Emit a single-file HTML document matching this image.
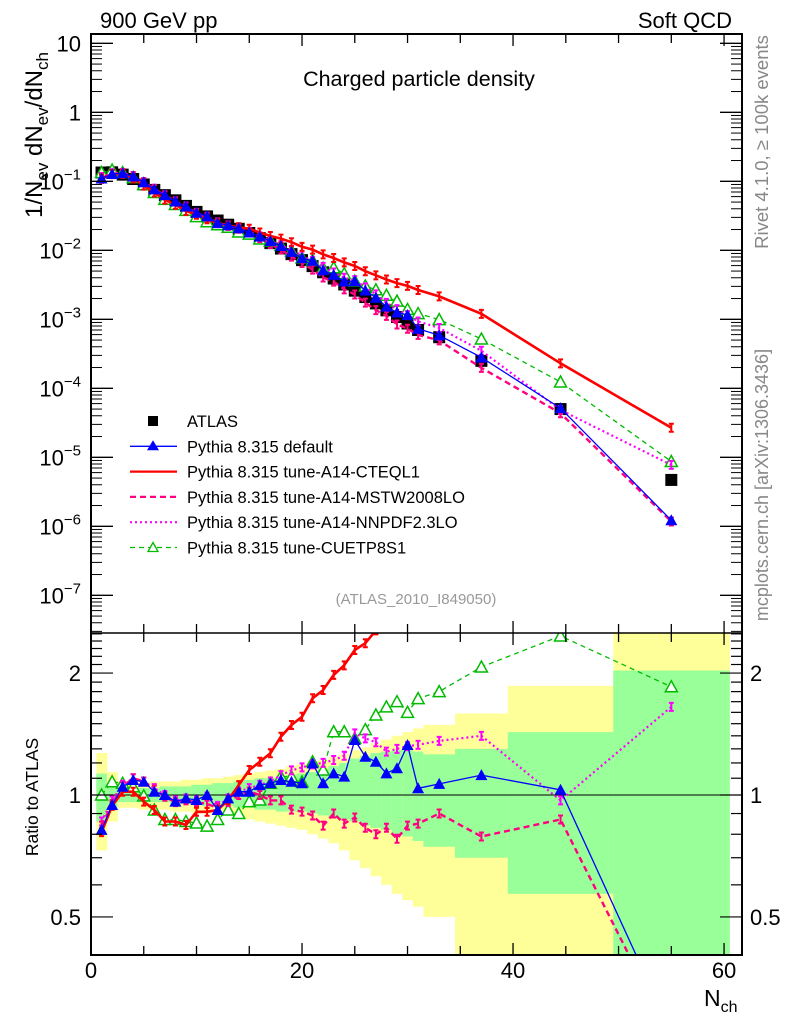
<!DOCTYPE html>
<html><head><meta charset="utf-8"><style>
html,body{margin:0;padding:0;background:#fff;}
svg{display:block;font-family:"Liberation Sans",sans-serif;}
</style></head><body>
<svg id="chart" width="786" height="1024" viewBox="0 0 786 1024" xmlns="http://www.w3.org/2000/svg">
<defs>
<clipPath id="clipMain"><rect x="91" y="34" width="651" height="599"/></clipPath>
<clipPath id="clipRatio"><rect x="91" y="633" width="651" height="322"/></clipPath>
</defs>
<g id="bands" clip-path="url(#clipRatio)"></g>
<g id="ratioMarks" clip-path="url(#clipRatio)"></g>
<g id="mainMarks" clip-path="url(#clipMain)"></g>
<g id="axes"></g>
<text x="100" y="28" font-size="22">900 GeV pp</text>
<text x="732" y="28" font-size="22" text-anchor="end">Soft QCD</text>
<text x="419" y="86" font-size="21.5" text-anchor="middle">Charged particle density</text>
<text x="416" y="604" font-size="15" fill="#999" text-anchor="middle">(ATLAS_2010_I849050)</text>
<text transform="translate(768,142) rotate(-90)" font-size="18.5" fill="#888" text-anchor="middle">Rivet 4.1.0, ≥ 100k events</text>
<text transform="translate(768,485) rotate(-90)" font-size="18" fill="#888" text-anchor="middle">mcplots.cern.ch [arXiv:1306.3436]</text>
<text transform="translate(42,135) rotate(-90)" font-size="24" text-anchor="middle">1/N<tspan font-size="17" dy="6">ev</tspan><tspan dy="-6"> dN</tspan><tspan font-size="17" dy="6">ev</tspan><tspan dy="-6">/dN</tspan><tspan font-size="17" dy="6">ch</tspan></text>
<text transform="translate(38,797) rotate(-90)" font-size="17.5" text-anchor="middle">Ratio to ATLAS</text>
<text x="704" y="1006" font-size="23">N<tspan font-size="16" dy="6">ch</tspan></text>
<g id="legend"></g>
</svg>
<script>
// ---- data ----
const xCenters = [1,2,3,4,5,6,7,8,9,10,11,12,13,14,15,16,17,18,19,20,21,22,23,24,25,26,27,28,29,30,31,33,37,44.5,55];
const xLow = [0.5,1.5,2.5,3.5,4.5,5.5,6.5,7.5,8.5,9.5,10.5,11.5,12.5,13.5,14.5,15.5,16.5,17.5,18.5,19.5,20.5,21.5,22.5,23.5,24.5,25.5,26.5,27.5,28.5,29.5,30.5,31.5,34.5,39.5,49.5];
const xHigh = [1.5,2.5,3.5,4.5,5.5,6.5,7.5,8.5,9.5,10.5,11.5,12.5,13.5,14.5,15.5,16.5,17.5,18.5,19.5,20.5,21.5,22.5,23.5,24.5,25.5,26.5,27.5,28.5,29.5,30.5,31.5,34.5,39.5,49.5,60.5];
const atlasValues = [0.134,0.135,0.125,0.108,0.09,0.075,0.063,0.053,0.044,0.036,0.031,0.027,0.0235,0.0205,0.0178,0.0150,0.0127,0.0106,0.0088,0.0072,0.0059,0.0048,0.0039,0.0032,0.0026,0.0021,0.0017,0.00135,0.00108,0.00087,0.0007,0.00055,0.00025,0.00005,0.0000047];
const ratioDefault = [0.82,0.945,1.048,1.089,1.078,1.019,1.0,0.963,0.981,0.972,1.0,0.918,0.981,1.019,1.019,1.058,1.069,1.089,1.078,1.069,1.197,1.069,1.131,1.11,1.367,1.243,1.208,1.131,1.164,1.329,1.039,1.065,1.12,1.03,0.26];
const ratioCTEQL1 = [0.81,0.94,1.019,1.019,0.963,0.918,0.86,0.86,0.843,0.909,0.909,0.918,0.972,1.058,1.153,1.208,1.268,1.393,1.489,1.56,1.733,1.816,1.98,2.09,2.28,2.37,2.55,2.8,3.1,3.5,3.8,3.9,4.8,4.6,5.7];
const ratioMSTW = [0.84,0.95,1.05,1.1,1.08,1.03,0.99,0.96,0.97,0.96,0.95,0.93,0.96,1.0,1.02,1.0,0.97,0.97,0.92,0.91,0.89,0.84,0.9,0.85,0.88,0.83,0.8,0.83,0.78,0.84,0.85,0.9,0.79,0.87,0.25];
const ratioNNPDF = [0.86,0.97,1.06,1.1,1.08,1.04,1.0,0.97,0.98,0.97,0.99,0.94,0.98,1.02,1.04,1.06,1.08,1.12,1.15,1.17,1.19,1.2,1.22,1.25,1.42,1.38,1.35,1.28,1.3,1.32,1.33,1.36,1.4,0.97,1.65];
const ratioCUETP8S1 = [1.0,1.078,1.069,1.048,0.995,0.918,0.87,0.87,0.86,0.853,0.838,0.87,0.918,0.9,0.963,0.972,1.069,1.11,1.11,1.078,1.208,1.153,1.433,1.433,1.38,1.45,1.576,1.65,1.7,1.6,1.73,1.8,2.07,2.47,1.85];
const yellowUp = [1.27,1.14,1.07,1.07,1.07,1.08,1.08,1.08,1.09,1.09,1.10,1.10,1.11,1.12,1.13,1.14,1.15,1.16,1.18,1.19,1.21,1.22,1.24,1.26,1.29,1.31,1.34,1.37,1.40,1.43,1.46,1.49,1.59,1.86,3.0];
const yellowDown = [0.73,0.86,0.93,0.93,0.92,0.92,0.92,0.91,0.91,0.90,0.90,0.89,0.89,0.88,0.87,0.86,0.85,0.84,0.83,0.82,0.80,0.78,0.76,0.73,0.69,0.66,0.63,0.60,0.57,0.55,0.53,0.50,0.3,0.3,0.3];
const greenUp = [1.13,1.06,1.04,1.04,1.04,1.04,1.05,1.05,1.05,1.06,1.06,1.07,1.07,1.08,1.09,1.10,1.10,1.11,1.12,1.13,1.14,1.16,1.18,1.20,1.23,1.25,1.27,1.28,1.29,1.30,1.28,1.26,1.30,1.43,2.03];
const greenDown = [0.86,0.93,0.96,0.96,0.96,0.96,0.96,0.95,0.95,0.95,0.94,0.94,0.94,0.93,0.93,0.92,0.92,0.91,0.91,0.91,0.90,0.89,0.88,0.87,0.86,0.84,0.83,0.82,0.80,0.79,0.77,0.745,0.70,0.57,0.3];
const xTickLabels = [0,20,40,60];
const yDecades = [-7,-6,-5,-4,-3,-2,-1,0,1];
const ratioTickLabels = [0.5,1,2];

// ---- axes functions ----
const X0=91, X1=742, XMAX=61.7;
const X = v => X0 + v*(X1-X0)/XMAX;
const Y = v => 43.3 + (1-Math.log10(v))*69;
const YR = r => 795 - 405*Math.log10(r);
const NS="http://www.w3.org/2000/svg";
function mk(tag, attrs, parent){const e=document.createElementNS(NS,tag);for(const k in attrs)e.setAttribute(k,attrs[k]);parent.appendChild(e);return e;}

// ---- bands ----
const bands=document.getElementById('bands');
xCenters.forEach((c,i)=>{
  const y1=mk('rect',{x:X(xLow[i]),y:YR(yellowUp[i]),width:X(xHigh[i])-X(xLow[i])+0.5,height:YR(yellowDown[i])-YR(yellowUp[i]),fill:'#ffff99'},bands);
  
  
  const g1=mk('rect',{x:X(xLow[i]),y:YR(greenUp[i]),width:X(xHigh[i])-X(xLow[i])+0.5,height:YR(greenDown[i])-YR(greenUp[i]),fill:'#99ff99'},bands);
  
  
});

// ---- series ----
const series=[
 {name:'default',r:ratioDefault,color:'#0000ff',w:1.3,dash:'',marker:'tri'},
 {name:'a14-cteql1',r:ratioCTEQL1,color:'#ff0000',w:2.6,dash:'',marker:'bar'},
 {name:'a14-mstw2008lo',r:ratioMSTW,color:'#ff0080',w:2.4,dash:'6,4',marker:'bar'},
 {name:'a14-nnpdf23lo',r:ratioNNPDF,color:'#ff00ff',w:2.2,dash:'2,3',marker:'bar'},
 {name:'cuetp8s1',r:ratioCUETP8S1,color:'#00bb00',w:1.3,dash:'5,4',marker:'otri'}
];
function marker(g,type,x,y,color){
  let e;
  if(type==='tri') e=mk('path',{d:`M${x-6},${y+5}L${x+6},${y+5}L${x},${y-6}Z`,fill:color},g);
  else if(type==='otri') e=mk('path',{d:`M${x-6},${y+5}L${x+6},${y+5}L${x},${y-6}Z`,fill:'#fff',stroke:color,'stroke-width':1.5},g);
  else e=mk('path',{d:`M${x},${y-4}V${y+4}M${x-2.5},${y-4}H${x+2.5}M${x-2.5},${y+4}H${x+2.5}`,stroke:color,'stroke-width':2},g);
  return e;
}
const main=document.getElementById('mainMarks'), ratio=document.getElementById('ratioMarks');
xCenters.forEach((c,i)=>{
  const s=mk('rect',{x:X(c)-6,y:Y(atlasValues[i])-6,width:12,height:12,fill:'#000'},main);
  
  
});
mk('line',{x1:91,x2:742,y1:YR(1),y2:YR(1),stroke:'#000','stroke-width':1},ratio);
series.slice().reverse().forEach(s=>{
  const gm=mk('g',{},main), gr=mk('g',{},ratio);
  
  
  
  
  const pm=xCenters.map((c,i)=>X(c).toFixed(1)+','+Y(atlasValues[i]*s.r[i]).toFixed(1)).join(' ');
  const pr=xCenters.map((c,i)=>X(c).toFixed(1)+','+YR(s.r[i]).toFixed(1)).join(' ');
  const lm=mk('polyline',{points:pm,fill:'none',stroke:s.color,'stroke-width':s.w,'stroke-dasharray':s.dash},gm);
  
  
  const lr=mk('polyline',{points:pr,fill:'none',stroke:s.color,'stroke-width':s.w,'stroke-dasharray':s.dash},gr);
  
  
  xCenters.forEach((c,i)=>{
    const a=marker(gm,s.marker,X(c),Y(atlasValues[i]*s.r[i]),s.color);
    
    
    const b=marker(gr,s.marker,X(c),YR(s.r[i]),s.color);
    
    
  });
});

// ---- axes ----
const ax=document.getElementById('axes');
mk('rect',{x:91,y:34,width:651,height:921,fill:'none',stroke:'#000','stroke-width':2},ax);
mk('line',{x1:91,x2:742,y1:633,y2:633,stroke:'#000','stroke-width':1.5},ax);
for(let v=5;v<=60;v+=5){
  const len = v%20===0?12:9;
  [[34,1],[633,-1],[633,1],[955,-1]].forEach(([y,d])=>mk('line',{x1:X(v),x2:X(v),y1:y,y2:y+d*len,stroke:'#000','stroke-width':1.3},ax));
}
xTickLabels.forEach(v=>{
  const t=mk('text',{x:X(v),y:978,'font-size':22,'text-anchor':'middle'},ax);
  t.textContent=v;
  
  
});
yDecades.forEach(d=>{
  const y=Y(Math.pow(10,d));
  mk('line',{x1:91,x2:113,y1:y,y2:y,stroke:'#000','stroke-width':1.3},ax);
  mk('line',{x1:742,x2:720,y1:y,y2:y,stroke:'#000','stroke-width':1.3},ax);
  for(let m=2;m<=9;m++){
    const ym=Y(m*Math.pow(10,d-1));
    if(ym>633||ym<34) continue;
    mk('line',{x1:91,x2:102,y1:ym,y2:ym,stroke:'#000','stroke-width':1},ax);
    mk('line',{x1:742,x2:731,y1:ym,y2:ym,stroke:'#000','stroke-width':1},ax);
  }
  const t=mk('text',{x:81,y:y+8,'font-size':22,'text-anchor':'end'},ax);
  
  
  if(d===0) t.textContent='1';
  else if(d===1) t.textContent='10';
  else { t.textContent='10'; const sp=mk('tspan',{'font-size':15,dy:-10},t); sp.textContent='\u2212'+(-d); }
});
for(let r=0.4;r<=2.5;r=Math.round((r+0.1)*10)/10){
  const y=YR(r); if(y<633||y>955) continue;
  const major=ratioTickLabels.includes(r);
  const len=major?22:11;
  mk('line',{x1:91,x2:91+len,y1:y,y2:y,stroke:'#000','stroke-width':1.2},ax);
  mk('line',{x1:742,x2:742-len,y1:y,y2:y,stroke:'#000','stroke-width':1.2},ax);
}
ratioTickLabels.forEach(r=>{
  const l=mk('text',{x:81,y:YR(r)+8,'font-size':22,'text-anchor':'end'},ax); l.textContent=r;
  
  
  const rr=mk('text',{x:750,y:YR(r)+8,'font-size':22},ax); rr.textContent=r;
  
  
});

// ---- legend ----
const lg=document.getElementById('legend');
const legendLabels=['ATLAS','Pythia 8.315 default','Pythia 8.315 tune-A14-CTEQL1','Pythia 8.315 tune-A14-MSTW2008LO','Pythia 8.315 tune-A14-NNPDF2.3LO','Pythia 8.315 tune-CUETP8S1'];
legendLabels.forEach((lab,i)=>{
  const y=421+i*25.3;
  const g=mk('g',{},lg);
  
  
  if(i===0){ mk('rect',{x:148,y:y-5,width:10,height:10,fill:'#000'},g); }
  else {
    const s=series[i-1];
    mk('line',{x1:130,x2:177,y1:y,y2:y,stroke:s.color,'stroke-width':s.w>2?2.2:1.3,'stroke-dasharray':s.dash},g);
    if(s.marker==='tri') mk('path',{d:`M${147},${y+4}L${159},${y+4}L${153},${y-6}Z`,fill:s.color},g);
    if(s.marker==='otri') mk('path',{d:`M${148},${y+4}L${158},${y+4}L${153},${y-5}Z`,fill:'#fff',stroke:s.color,'stroke-width':1.3},g);
  }
  const t=mk('text',{x:187,y:y+6,'font-size':16.5},g); t.textContent=lab;
});
</script>
</body></html>
